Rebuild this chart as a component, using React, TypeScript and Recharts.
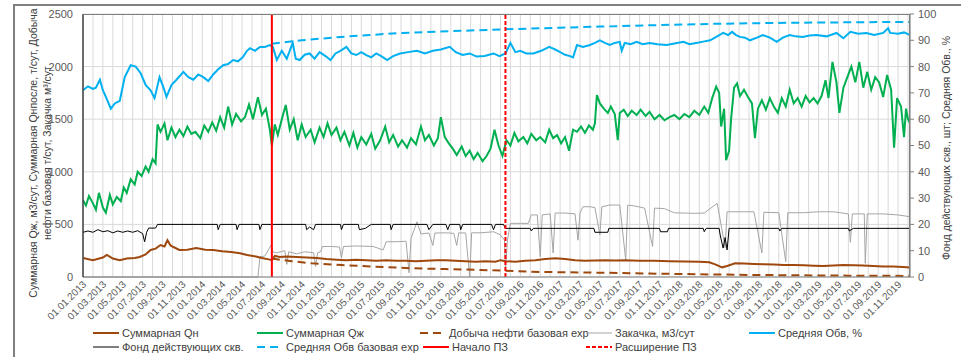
import React from "react";
import { LineChart, Line, XAxis, YAxis, CartesianGrid, ReferenceLine } from "recharts";

// x = months since 01.01.2013
const monthTicks = Array.from({ length: 84 }, (_, i) => i);
const leftTicks = [0, 500, 1000, 1500, 2000, 2500];
const rightTicks = [0, 10, 20, 30, 40, 50, 60, 70, 80, 90, 100];

const startPZ = 19;
const expandPZ = 42.5;

// Средняя Обв, % (right axis)
const obv: number[][] = [
  [0, 71], [0.5, 72.5], [1, 71.5], [1.3, 72], [1.7, 75], [2, 71], [2.3, 68.5], [2.8, 64], [3.2, 66], [3.7, 67],
  [4.2, 76], [4.8, 80.5], [5.3, 80], [5.8, 77.5], [6.3, 73], [6.8, 71], [7.2, 68], [7.7, 76], [8.1, 72], [8.4, 68.5],
  [8.9, 73], [9.4, 75], [10.1, 78], [10.6, 76], [11.1, 75], [11.6, 77], [12.1, 76], [12.6, 74.5], [13.1, 77], [13.6, 79],
  [14.1, 80.5], [14.6, 81], [15.1, 82.5], [15.6, 82], [16.1, 83.7], [16.5, 86], [16.8, 87], [17.3, 86], [17.8, 87.5], [18.3, 87.5],
  [18.8, 88.2], [19.1, 87.5], [19.5, 82.5], [20, 86], [20.5, 83], [21.1, 89], [21.4, 83], [21.8, 82.5], [22.3, 84.5], [22.8, 85],
  [23.3, 83], [23.8, 85.5], [24.4, 84], [24.9, 82.5], [25.4, 85], [25.9, 86], [26.5, 87.5], [27, 85], [27.5, 84.4], [28, 85.5],
  [28.5, 84.4], [29, 83.5], [29.5, 85], [30, 84], [30.6, 82.5], [31.2, 84], [31.9, 85], [32.7, 85.5], [33.6, 86], [34.4, 85],
  [35.2, 86], [36, 86.5], [36.9, 87.5], [37.5, 85.5], [38.2, 84.4], [38.9, 85], [39.6, 83.8], [40.4, 84], [41.3, 85], [41.9, 84],
  [42.5, 85], [43, 89], [43.5, 85.5], [44, 86], [44.6, 85], [45.3, 85], [46.1, 86], [46.9, 87.5], [47.5, 86.5], [48, 85.5],
  [48.5, 84.5], [49, 84], [49.3, 83.5], [49.7, 88.2], [50.3, 87.5], [51, 88.2], [51.5, 89], [52, 90], [52.5, 89], [53, 88.2],
  [53.5, 89], [54, 89.4], [54.2, 86], [54.5, 89], [55.1, 88.5], [55.7, 89.4], [56.3, 88.5], [57, 89], [57.8, 88.5], [58.7, 88.2],
  [59.5, 88.8], [60.4, 89.4], [61, 88.5], [61.7, 89], [62.4, 89.5], [63.1, 90], [63.8, 91.5], [64.4, 92.8], [64.9, 92], [65.3, 93.2],
  [65.7, 92], [66.1, 91.3], [66.6, 91], [67.1, 90], [67.8, 91], [68.4, 92], [69.1, 91], [69.8, 89.4], [70.4, 91], [71.1, 92],
  [71.7, 91.5], [72.4, 91.3], [73.1, 91.8], [73.8, 92], [74.8, 91.5], [75.8, 92.8], [76.5, 90.8], [77.2, 93.2], [78, 92.5], [78.8, 92.8],
  [79.6, 92], [80.5, 92.8], [81, 94.6], [81.2, 92.8], [82, 92.5], [82.6, 93], [83.2, 92],
];

// Средняя Обв базовая exp
const obvBase: number[][] = [
  [19, 88.7], [22, 90], [26, 91.3], [32, 92.8], [38, 93.6], [42.5, 94.2], [48, 94.8], [52, 95.2], [58, 95.8], [64, 96.3], [72, 96.7], [83.2, 97],
];

// Суммарная Qж
const qzh: number[][] = [
  [0, 730], [0.3, 680], [0.6, 770], [1, 700], [1.3, 640], [1.6, 800], [2, 660], [2.3, 610], [2.7, 780], [3, 690],
  [3.4, 760], [3.8, 720], [4.1, 850], [4.4, 800], [4.8, 930], [5.2, 880], [5.5, 1000], [5.9, 960], [6.3, 1050], [6.6, 1000],
  [7, 1120], [7.3, 1080], [7.5, 1450], [7.8, 1380], [8.2, 1460], [8.5, 1300], [8.9, 1420], [9.3, 1330], [9.7, 1400], [10.1, 1340],
  [10.5, 1430], [10.9, 1360], [11.3, 1380], [11.8, 1320], [12.2, 1440], [12.6, 1380], [13, 1470], [13.4, 1390], [13.8, 1520], [14.2, 1420],
  [14.6, 1620], [15, 1450], [15.4, 1550], [15.9, 1480], [16.3, 1520], [16.7, 1640], [17.1, 1500], [17.6, 1710], [18, 1540], [18.4, 1600],
  [18.8, 1400], [19, 1250], [19.3, 1450], [19.6, 1350], [20, 1500], [20.4, 1635], [20.8, 1400], [21.2, 1500], [21.6, 1300], [22, 1450],
  [22.4, 1330], [22.9, 1400], [23.3, 1280], [23.8, 1420], [24.2, 1330], [24.6, 1460], [25, 1350], [25.5, 1420], [25.9, 1300], [26.3, 1380],
  [26.8, 1250], [27.2, 1370], [27.6, 1230], [28, 1330], [28.5, 1260], [29, 1360], [29.4, 1220], [29.9, 1300], [30.4, 1430], [30.8, 1280],
  [31.2, 1350], [31.7, 1240], [32.1, 1300], [32.6, 1230], [33, 1320], [33.5, 1260], [34, 1430], [34.4, 1300], [34.8, 1350], [35.3, 1250],
  [35.7, 1320], [36, 1520], [36.4, 1330], [36.8, 1270], [37.2, 1220], [37.6, 1160], [38.1, 1240], [38.5, 1150], [38.9, 1200], [39.3, 1120],
  [39.7, 1180], [40.2, 1100], [40.6, 1150], [41, 1220], [41.4, 1400], [41.8, 1250], [42.2, 1150], [42.6, 1300], [43, 1250], [43.4, 1370],
  [43.8, 1290], [44.3, 1330], [44.7, 1270], [45.1, 1360], [45.6, 1300], [46, 1330], [46.5, 1280], [46.9, 1400], [47.3, 1320], [47.7, 1350],
  [48.1, 1270], [48.5, 1330], [48.9, 1200], [49.3, 1400], [49.7, 1380], [50.1, 1430], [50.5, 1370], [50.9, 1440], [51.3, 1400], [51.5, 1460],
  [51.7, 1730], [52, 1650], [52.4, 1600], [52.8, 1560], [53.1, 1620], [53.5, 1550], [53.8, 1300], [54, 1560], [54.4, 1590], [54.8, 1530],
  [55.2, 1580], [55.7, 1540], [56.1, 1590], [56.6, 1530], [57, 1570], [57.5, 1500], [58, 1540], [58.5, 1490], [59, 1520], [59.5, 1540],
  [60, 1500], [60.5, 1550], [61, 1520], [61.5, 1580], [62, 1540], [62.5, 1620], [62.9, 1560], [63.3, 1700], [63.7, 1810], [64, 1750],
  [64.2, 1430], [64.5, 1600], [64.7, 1110], [65, 1200], [65.2, 1500], [65.5, 1800], [65.8, 1840], [66.1, 1720], [66.5, 1780], [66.9, 1710],
  [67.3, 1650], [67.6, 1320], [67.9, 1600], [68.3, 1680], [68.7, 1590], [69.1, 1700], [69.5, 1620], [69.9, 1560], [70.3, 1700], [70.7, 1620],
  [71.1, 1780], [71.5, 1650], [71.9, 1700], [72.3, 1620], [72.7, 1720], [73.1, 1660], [73.5, 1700], [73.9, 1650], [74.3, 1720], [74.7, 1870],
  [75, 1700], [75.4, 2045], [75.8, 1850], [76.1, 1560], [76.5, 1800], [76.9, 1900], [77.3, 2000], [77.7, 1850], [78.1, 2045], [78.5, 1800],
  [78.9, 1950], [79.3, 1780], [79.7, 1900], [80.1, 1850], [80.5, 1710], [80.9, 1920], [81.3, 1780], [81.6, 1230], [81.9, 1700], [82.3, 1620],
  [82.6, 1330], [82.8, 1600], [83, 1500], [83.2, 1460],
];

// Суммарная Qн
const qn: number[][] = [
  [0, 180], [1, 160], [2, 185], [2.4, 210], [3, 175], [3.7, 160], [4.4, 175], [5.2, 180], [5.7, 190], [6.3, 215],
  [6.8, 257], [7.3, 270], [7.8, 304], [8.2, 290], [8.5, 350], [8.8, 300], [9.1, 285], [9.7, 257], [10.5, 260], [11.4, 275],
  [12.3, 260], [13.1, 257], [14, 245], [14.9, 238], [15.8, 225], [16.5, 209], [17.4, 195], [18, 180], [18.8, 165], [19, 160],
  [19.3, 200], [19.8, 190], [20.5, 195], [21.5, 190], [22.5, 185], [23.5, 180], [24.5, 170], [25.5, 165], [26.5, 160], [27.5, 165],
  [28.5, 160], [29.5, 155], [30.5, 160], [31.5, 155], [32.5, 155], [33.5, 150], [34.5, 155], [35.5, 160], [36.5, 160], [37.5, 155],
  [38.5, 150], [39.5, 145], [40.5, 150], [41.5, 145], [42, 160], [42.5, 150], [43.5, 145], [44.5, 155], [45.5, 160], [46.5, 170],
  [47.5, 178], [48.5, 170], [49.5, 160], [50.5, 155], [51.5, 158], [52.5, 160], [53.5, 158], [54.5, 160], [56, 155], [57.5, 155],
  [59, 150], [60.5, 148], [62, 145], [63, 140], [63.6, 120], [64.3, 92], [64.8, 105], [65.6, 130], [66.5, 128], [67.5, 124],
  [68.5, 122], [69.5, 118], [70.5, 115], [71.5, 114], [72.5, 112], [73.5, 108], [74.5, 105], [75.5, 110], [76.5, 114], [77.5, 112],
  [78.5, 110], [79.5, 105], [80.5, 100], [81.5, 100], [82.5, 95], [83.2, 90],
];

// Добыча нефти базовая exp
const qnBase: number[][] = [
  [19, 175], [21, 150], [23, 130], [26, 114], [29.5, 98], [33, 83], [36.5, 75], [40, 67], [42.5, 60], [45, 50],
  [48.5, 45], [52, 41], [57, 33], [62, 26], [67, 20], [72, 16], [77, 13], [83.2, 10],
];

// Закачка, м3/сут
const inject: number[][] = [
  [0, 0], [17.6, 0], [17.8, 190], [18.3, 200], [18.9, 300], [19.1, 240], [19.5, 230], [20.3, 250], [20.5, 120], [20.7, 240],
  [21.5, 220], [22.3, 240], [23.2, 230], [23.4, 100], [23.6, 230], [23.9, 240], [24.1, 290], [25, 290], [25.8, 285], [26, 180],
  [26.2, 290], [27.5, 295], [29.2, 290], [30.2, 257], [30.5, 335], [31.5, 335], [32.5, 340], [32.8, 40], [33, 368], [33.6, 525],
  [34, 410], [34.8, 418], [35.2, 300], [35.4, 418], [36.5, 420], [37.3, 415], [37.6, 300], [37.8, 420], [38.5, 418], [38.9, 0],
  [39.1, 420], [40, 420], [41.3, 430], [42, 400], [42.4, 350], [42.5, 60], [42.7, 350], [43, 510], [44, 510], [44.8, 510],
  [45.1, 590], [45.7, 590], [46, 193], [46.2, 590], [47, 600], [47.3, 228], [47.5, 608], [48.5, 608], [49.5, 600], [49.8, 350],
  [50, 608], [50.3, 668], [51, 668], [51.5, 660], [52, 400], [52.2, 668], [53, 684], [54, 684], [54.6, 160], [54.8, 684],
  [55.5, 675], [56.5, 655], [57.3, 290], [57.5, 655], [58.5, 650], [59.5, 610], [60.5, 608], [61.5, 605], [62.5, 608], [63.8, 700],
  [64, 600], [64.6, 280], [64.8, 620], [66, 620], [67.5, 620], [68.3, 228], [68.5, 615], [70, 611], [70.7, 145], [70.9, 611],
  [72.5, 611], [74, 620], [75.5, 620], [77, 600], [77.2, 330], [77.4, 600], [78.6, 600], [78.7, 130], [78.9, 600], [80.5, 600],
  [82, 590], [83.2, 573],
];

// Фонд действующих скв. (right axis)
const wells: number[][] = [
  [0, 17], [0.5, 17.5], [1, 17], [1.5, 18], [2, 17.2], [2.5, 17.6], [3, 16.8], [3.5, 17.5], [4, 17], [4.5, 17.5],
  [5, 17], [5.5, 17.6], [6, 16.5], [6.2, 13.4], [6.4, 17], [6.6, 18.6], [7.3, 18.6], [7.5, 20], [13.5, 20], [13.6, 18],
  [13.8, 20], [15.4, 20], [15.5, 18], [15.7, 20], [17.7, 20], [17.8, 18], [18, 20], [22.4, 20], [22.5, 18], [22.8, 19],
  [23.2, 18], [23.4, 20], [25.9, 20], [26, 18], [26.2, 20], [27.7, 20], [27.8, 18], [28.4, 18.5], [29, 20], [30.9, 20],
  [31, 18], [31.2, 20], [34.6, 20], [34.8, 18], [35.2, 20], [36.5, 20], [36.7, 18], [36.9, 20], [37.9, 20], [38, 18],
  [38.2, 20], [41.1, 20], [41.3, 18], [41.5, 20], [42.3, 20], [42.5, 18.5], [45, 18.5], [45.1, 17.5], [45.3, 18.5], [51.4, 18.5],
  [51.5, 17], [52.8, 17], [52.9, 18.5], [58, 18.5], [58.1, 17.2], [58.8, 17.2], [58.9, 18.5], [62.4, 18.5], [62.5, 17.2], [62.7, 18.5],
  [64, 18.5], [64.1, 16], [64.4, 11], [64.6, 15], [64.8, 10.3], [65, 18.5], [70, 18.5], [70.1, 17.5], [70.3, 18.5], [77, 18.5],
  [77.1, 17.5], [77.5, 18.5], [83.2, 18.5],
];

const toRows = (s: number[][]) => s.map(([m, v]) => ({ m, v }));

const FONT = "'Liberation Sans', Arial, sans-serif";
const pad = (n: number) => (n < 10 ? "0" + n : "" + n);
const monthLabel = (i: number) => `01.${pad((i % 12) + 1)}.${2013 + Math.floor(i / 12)}`;

const XTick = (props: any) => {
  const { x, y, payload } = props;
  if (payload.value % 2 !== 0) return <g />;
  return (
    <text
      x={x + 4}
      y={y + 6}
      transform={`rotate(-45 ${x + 4} ${y + 6})`}
      textAnchor="end"
      fontSize={10}
      fontFamily={FONT}
      fill="#595959"
    >
      {monthLabel(payload.value)}
    </text>
  );
};

const legendRows = [
  [
    { label: "Суммарная Qн", color: "#9E480E", dash: "", x: 121 },
    { label: "Суммарная Qж", color: "#00B050", dash: "", x: 285 },
    { label: "Добыча нефти базовая exp", color: "#9E480E", dash: "8 5", x: 448 },
    { label: "Закачка, м3/сут", color: "#A5A5A5", dash: "", x: 614 },
    { label: "Средняя Обв, %", color: "#00B0F0", dash: "", x: 777 },
  ],
  [
    { label: "Фонд действующих скв.", color: "#000000", dash: "", x: 121 },
    { label: "Средняя Обв базовая exp", color: "#00B0F0", dash: "8 5", x: 285 },
    { label: "Начало ПЗ", color: "#FF0000", dash: "", x: 451 },
    { label: "Расширение ПЗ", color: "#FF0000", dash: "4 2", x: 614 },
  ],
];

export default function App() {
  return (
    <div style={{ position: "absolute", left: 0, top: 0, width: 961, height: 357, background: "#fff", fontFamily: FONT, overflow: "hidden" }}>
      {/* outer frame */}
      <div style={{ position: "absolute", left: 13, top: 4, width: 960, height: 360, borderLeft: "2px solid #808080", borderTop: "2px solid #808080" }} />
      <LineChart width={961} height={357} margin={{ top: 14, right: 11, left: 43, bottom: 30 }}>
        <CartesianGrid yAxisId="l" stroke="#D9D9D9" strokeWidth={1} />
        <XAxis
          dataKey="m"
          type="number"
          domain={[0, 83.2]}
          ticks={monthTicks}
          interval={0}
          tick={<XTick />}
          tickLine={false}
          tickSize={0}
          height={50}
          axisLine={{ stroke: "#808080" }}
          allowDataOverflow
        />
        <YAxis
          yAxisId="l"
          domain={[0, 2500]}
          ticks={leftTicks}
          width={40}
          tickLine={false}
          tickMargin={4}
          axisLine={{ stroke: "#404040", strokeWidth: 1.5 }}
          tick={{ fontSize: 11, fill: "#595959", fontFamily: FONT }}
        />
        <YAxis
          yAxisId="r"
          orientation="right"
          domain={[0, 100]}
          ticks={rightTicks}
          width={40}
          tickLine={{ stroke: "#808080" }}
          tickSize={4}
          tickMargin={4}
          axisLine={{ stroke: "#808080" }}
          tick={{ fontSize: 11, fill: "#595959", fontFamily: FONT }}
        />
        <Line yAxisId="l" data={toRows(inject)} dataKey="v" stroke="#A5A5A5" strokeWidth={1} dot={false} isAnimationActive={false} />
        <Line yAxisId="l" data={toRows(qn)} dataKey="v" stroke="#9E480E" strokeWidth={2} dot={false} isAnimationActive={false} />
        <Line yAxisId="l" data={toRows(qzh)} dataKey="v" stroke="#00B050" strokeWidth={2} dot={false} isAnimationActive={false} />
        <Line yAxisId="l" data={toRows(qnBase)} dataKey="v" stroke="#9E480E" strokeWidth={2} strokeDasharray="8 5" dot={false} isAnimationActive={false} />
        <Line yAxisId="r" data={toRows(obv)} dataKey="v" stroke="#00B0F0" strokeWidth={2} dot={false} isAnimationActive={false} />
        <Line yAxisId="r" data={toRows(wells)} dataKey="v" stroke="#000000" strokeWidth={1} dot={false} isAnimationActive={false} />
        <Line yAxisId="r" data={toRows(obvBase)} dataKey="v" stroke="#00B0F0" strokeWidth={2} strokeDasharray="8 5" dot={false} isAnimationActive={false} />
        <ReferenceLine yAxisId="l" x={startPZ} stroke="#FF0000" strokeWidth={2} />
        <ReferenceLine yAxisId="l" x={expandPZ} stroke="#FF0000" strokeWidth={2} strokeDasharray="4 2" />
      </LineChart>
      {/* plot area border */}
      <div style={{ position: "absolute", left: 83, top: 14, width: 827, height: 263, borderTop: "1px solid #808080", borderRight: "1px solid #808080", boxSizing: "border-box", pointerEvents: "none" }} />
      {/* left axis title */}
      <div
        style={{
          position: "absolute", left: 40, top: 153, width: 290, transform: "translate(-50%, -50%) rotate(-90deg)",
          fontSize: 10.5, lineHeight: "14px", color: "#404040", textAlign: "center", whiteSpace: "nowrap",
        }}
      >
        Суммарная Qж, м3/сут, Суммарная Qнпосле, т/сут, Добыча
        <br />
        нефти базовая т/сут, Закачка м³/сут
      </div>
      {/* right axis title */}
      <div
        style={{
          position: "absolute", left: 946, top: 148, width: 240, transform: "translate(-50%, -50%) rotate(-90deg)",
          fontSize: 10.5, lineHeight: "14px", color: "#404040", textAlign: "center", whiteSpace: "nowrap",
        }}
      >
        Фонд действующих скв., шт; Средняя Обв., %
      </div>
      {/* legend */}
      {legendRows.map((row, ri) =>
        row.map((it) => (
          <div key={it.label} style={{ position: "absolute", left: it.x - 29, top: 326 + ri * 14, height: 14, display: "flex", alignItems: "center", fontSize: 11, color: "#404040", whiteSpace: "nowrap" }}>
            <svg width={28} height={14} style={{ marginRight: 2 }}>
              <line x1={1} y1={7} x2={27} y2={7} stroke={it.color} strokeWidth={it.color === "#000000" || it.color === "#A5A5A5" ? 1 : 2} strokeDasharray={it.dash} />
            </svg>
            {it.label}
          </div>
        ))
      )}
    </div>
  );
}
